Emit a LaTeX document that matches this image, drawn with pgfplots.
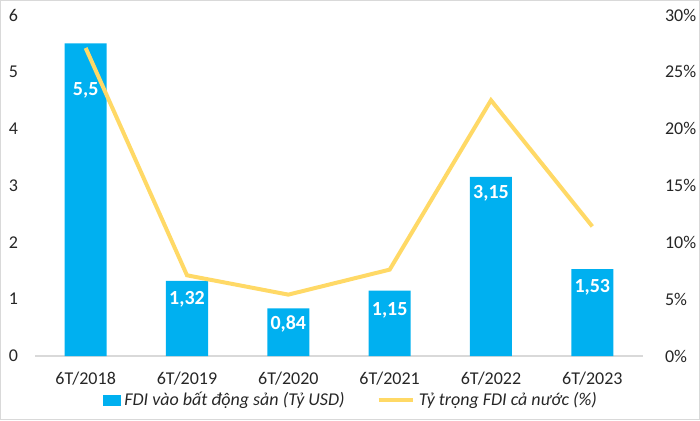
\documentclass[border=0pt]{standalone}
\usepackage{fontspec}
\setmainfont{Carlito}
\usepackage{pgfplots}
\pgfplotsset{compat=1.18}
\definecolor{barblue}{HTML}{00B0F0}
\definecolor{lineyel}{HTML}{FFD966}
\definecolor{framec}{HTML}{D9D9D9}
\definecolor{txt}{HTML}{262626}
\begin{document}
\begin{tikzpicture}[x=1pt,y=1pt]
\useasboundingbox (0,0) rectangle (350,210);
\draw[framec, line width=0.6pt] (0.3,0.3) rectangle (349.7,209.7);
\pgfplotsset{
  base/.style={
    at={(17.5pt,32pt)}, anchor=south west,
    scale only axis, width=304pt, height=170.5pt,
    xmin=-0.5, xmax=5.5,
    axis line style={draw=none},
    major tick length=0pt,
    /pgf/number format/assume math mode=true,
    ticklabel style={font=\fontsize{9}{10.5}\selectfont, text=txt},
    clip=false,
  }
}
\begin{axis}[base,
  ymin=0, ymax=6, ytick={0,1,2,3,4,5,6},
  yticklabel style={anchor=east, xshift=-5pt},
  xtick={0,1,2,3,4,5},
  xticklabels={6T/2018,6T/2019,6T/2020,6T/2021,6T/2022,6T/2023},
  xticklabel style={yshift=-4.5pt},
  extra y ticks={0}, extra y tick labels={},
  extra y tick style={grid=major, major grid style={framec, line width=0.6pt}},
]
\addplot[ybar, bar width=21pt, fill=barblue, draw=none, bar shift=0pt]
  coordinates {(0,5.5) (1,1.32) (2,0.84) (3,1.15) (4,3.15) (5,1.53)};
\addplot[draw=none, mark=none, forget plot,
  nodes near coords, point meta=explicit symbolic,
  every node near coord/.append style={anchor=center, text=white,
    font=\bfseries\fontsize{10}{12}\selectfont}]
  coordinates {(0,4.67) [5,5] (1,1.00) [1,32] (2,0.56) [0,84] (3,0.80) [1,15] (4,2.87) [3,15] (5,1.21) [1,53]};
\end{axis}
\begin{axis}[base,
  ymin=0, ymax=30, ytick={0,5,10,15,20,25,30},
  axis x line=none,
  axis y line*=right,
  yticklabel={\pgfmathprintnumber{\tick}\%},
  yticklabel style={anchor=west, xshift=7.5pt},
  legend style={at={(axis description cs:0.521,-0.129)}, anchor=center,
    legend columns=2, draw=none, fill=none,
    font=\itshape\fontsize{9}{11}\selectfont, text=txt,
    /tikz/every even column/.append style={column sep=14pt},
    inner sep=0pt},
]
\addlegendimage{legend image code/.code={\fill[barblue] (0pt,-2.5pt) rectangle (8.5pt,2.5pt);}}
\addlegendentry{FDI vào bất động sản (Tỷ USD)}
\addplot[lineyel, line width=2pt, mark=none]
  coordinates {(0,27.1) (1,7.1) (2,5.4) (3,7.6) (4,22.5) (5,11.4)};
\addlegendentry{Tỷ trọng FDI cả nước (\%)}
\end{axis}
\end{tikzpicture}
\end{document}
